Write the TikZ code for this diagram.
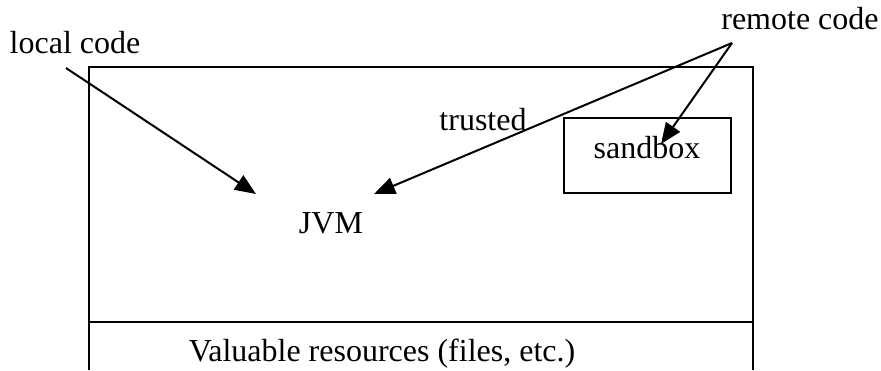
\documentclass[tikz,border=0pt]{standalone}
\usepackage{fontspec}
\setmainfont{Liberation Serif}
\usetikzlibrary{arrows.meta}
\begin{document}
\begin{tikzpicture}[x=1pt,y=-1pt,
  lbl/.style={inner sep=0pt,anchor=base,font=\fontsize{32}{36}\selectfont},
  box/.style={draw,line width=1.4pt},
  arr/.style={line width=2pt,-{Triangle[length=21pt,width=17pt]}}]
\useasboundingbox (0,0) rectangle (881,370);
% outer box
\coordinate (obl) at (89,370);
\coordinate (otl) at (89,67);
\coordinate (otr) at (753,67);
\coordinate (obr) at (753,370);
\coordinate (sl) at (89,322);
\coordinate (sr) at (753,322);
\draw[box] (obl) -- (otl) -- (otr) -- (obr);
\draw[box] (sl) -- (sr);
% sandbox
\node[box,minimum width=167pt,minimum height=75pt,inner sep=0pt] (sbox) at (647.5,155.5) {};
\node[lbl] (sandbox) at (647,158) {sandbox};
% labels
\node[lbl] (local) at (75,53) {local code};
\node[lbl] (remote) at (800,29) {remote code};
\node[lbl] (trusted) at (483,130) {trusted};
\node[lbl] (jvm) at (331,233) {JVM};
\node[lbl] (res) at (382,361) {Valuable resources (files, etc.)};
% arrow points
\coordinate (ls) at (66,68);
\coordinate (le) at (256,194);
\coordinate (rs) at (732,43);
\coordinate (re1) at (374,194);
\coordinate (re2) at (661,144);
\draw[arr] (ls) -- (le);
\draw[arr] (rs) -- (re1);
\draw[arr] (rs) -- (re2);
\end{tikzpicture}
\end{document}
